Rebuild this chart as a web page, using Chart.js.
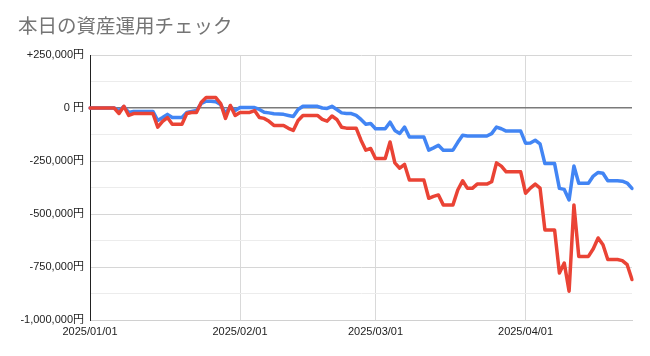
<!DOCTYPE html>
<html>
<head>
<meta charset="utf-8">
<script src="https://cdn.jsdelivr.net/npm/chart.js@4.4.1/dist/chart.umd.min.js"></script>
<style>
  html, body { margin: 0; padding: 0; background: #fff; }
  #wrap { width: 650px; height: 356px; position: relative; }
</style>
</head>
<body>
<div id="wrap"><canvas id="c" width="650" height="356"></canvas></div>
<script>
const titleText = '本日の資産運用チェック';
const startDate = '2025-01-01';
const dayCount = 113;
const xTickLabels = ['2025/01/01', '2025/02/01', '2025/03/01', '2025/04/01'];
const yTickValues = [250000, 0, -250000, -500000, -750000, -1000000];
const yTickLabels = ['+250,000円', '0 円', '-250,000円', '-500,000円', '-750,000円', '-1,000,000円'];

const blueValues = [
  0,0,0,0,0,0,-12000,7000,-21000,-16000,
  -16000,-16000,-16000,-16000,-59000,-45000,-30000,-45000,-45000,-45000,
  -21000,-16000,-12000,21000,32000,32000,30000,16000,-26000,7000,
  -12000,2000,2000,2000,2000,-7000,-20000,-23000,-27000,-28000,
  -30000,-35000,-40000,-7000,8000,8000,8000,8000,0,-2000,
  8000,-7000,-23000,-26000,-26000,-35000,-54000,-77000,-73000,-98000,
  -98000,-98000,-67000,-106000,-120000,-90000,-137000,-137000,-137000,-137000,
  -199000,-188000,-176000,-199000,-199000,-199000,-162000,-129000,-132000,-132000,
  -132000,-132000,-132000,-121000,-90000,-98000,-109000,-109000,-109000,-109000,
  -166000,-165000,-152000,-169000,-262000,-262000,-262000,-379000,-384000,-434000,
  -274000,-355000,-355000,-355000,-321000,-304000,-308000,-343000,-343000,-343000,
  -345000,-354000,-379000
];
const redValues = [
  0,0,0,0,0,0,-26000,8000,-35000,-26000,
  -26000,-26000,-26000,-26000,-90000,-63000,-45000,-77000,-77000,-77000,
  -26000,-21000,-21000,27000,49000,49000,49000,21000,-49000,12000,
  -35000,-21000,-21000,-21000,-12000,-45000,-49000,-63000,-82000,-82000,
  -82000,-96000,-106000,-59000,-35000,-35000,-35000,-35000,-54000,-62000,
  -38000,-54000,-91000,-95000,-95000,-95000,-152000,-199000,-191000,-238000,
  -238000,-238000,-160000,-259000,-284000,-266000,-340000,-340000,-340000,-340000,
  -426000,-417000,-410000,-457000,-457000,-457000,-387000,-343000,-379000,-379000,
  -359000,-359000,-359000,-348000,-259000,-274000,-301000,-301000,-301000,-301000,
  -402000,-378000,-359000,-378000,-575000,-575000,-575000,-778000,-731000,-864000,
  -457000,-700000,-700000,-700000,-664000,-613000,-645000,-715000,-715000,-715000,
  -720000,-739000,-809000
];

// category labels: one per day
const dates = [];
{
  const d0 = new Date(startDate + 'T00:00:00Z');
  for (let i = 0; i < dayCount; i++) {
    const d = new Date(d0.getTime() + i * 86400000);
    const s = d.getUTCFullYear() + '/' + String(d.getUTCMonth() + 1).padStart(2, '0') + '/' + String(d.getUTCDate()).padStart(2, '0');
    dates.push(s);
  }
}

const FONT = "Arial, 'Liberation Sans', 'Noto Sans CJK JP', sans-serif";

new Chart(document.getElementById('c'), {
  type: 'line',
  data: {
    labels: dates,
    datasets: [
      {
        label: 'red',
        data: redValues,
        borderColor: '#EA4335',
        borderWidth: 3.5,
        pointRadius: 0,
        tension: 0,
        borderJoinStyle: 'round',
        borderCapStyle: 'round',
        order: 1
      },
      {
        label: 'blue',
        data: blueValues,
        borderColor: '#4285F4',
        borderWidth: 3.5,
        pointRadius: 0,
        tension: 0,
        borderJoinStyle: 'round',
        borderCapStyle: 'round',
        order: 2
      }
    ]
  },
  options: {
    responsive: false,
    animation: false,
    devicePixelRatio: 1,
    layout: { padding: { left: 18, right: 18, top: 0, bottom: 0 } },
    plugins: {
      legend: { display: false },
      tooltip: { enabled: false },
      title: {
        display: true,
        text: titleText,
        align: 'start',
        color: '#757575',
        font: { family: "'Noto Sans CJK JP', sans-serif", size: 19.5, weight: 'normal', lineHeight: 1.2 },
        padding: { top: 14, bottom: 17.6 }
      }
    },
    scales: {
      x: {
        type: 'category',
        offset: false,
        border: { display: true, color: '#d0d0d0', width: 1 },
        grid: {
          drawTicks: false,
          color: (ctx) => {
            const lbl = ctx.tick ? dates[ctx.tick.value] : '';
            return lbl && xTickLabels.includes(lbl) ? '#d9d9d9' : 'rgba(0,0,0,0)';
          },
          lineWidth: 1
        },
        ticks: {
          autoSkip: false,
          maxRotation: 0,
          minRotation: 0,
          padding: 5,
          color: '#222',
          font: { family: FONT, size: 11 },
          callback: (val) => xTickLabels.includes(dates[val]) ? dates[val] : ''
        },
        afterFit: (s) => { s.height = 36; }
      },
      y: {
        min: -1000000,
        max: 250000,
        border: { display: true, color: '#222', width: 1 },
        afterBuildTicks: (s) => {
          const t = [];
          for (let v = -1000000; v <= 250000; v += 125000) t.push({ value: v });
          s.ticks = t;
        },
        grid: {
          drawTicks: false,
          color: (ctx) => {
            const v = ctx.tick ? ctx.tick.value : null;
            if (v === 0) return '#7a7a7a';
            return yTickValues.includes(v) ? '#d6d6d6' : '#ececec';
          },
          lineWidth: (ctx) => (ctx.tick && ctx.tick.value === 0) ? 1.5 : 1
        },
        ticks: {
          autoSkip: false,
          padding: 6,
          color: '#222',
          font: { family: FONT, size: 11 },
          callback: (val) => {
            const i = yTickValues.indexOf(val);
            return i >= 0 ? yTickLabels[i] : '';
          }
        },
        afterFit: (s) => { s.width = 72; }
      }
    }
  }
});
</script>
</body>
</html>
